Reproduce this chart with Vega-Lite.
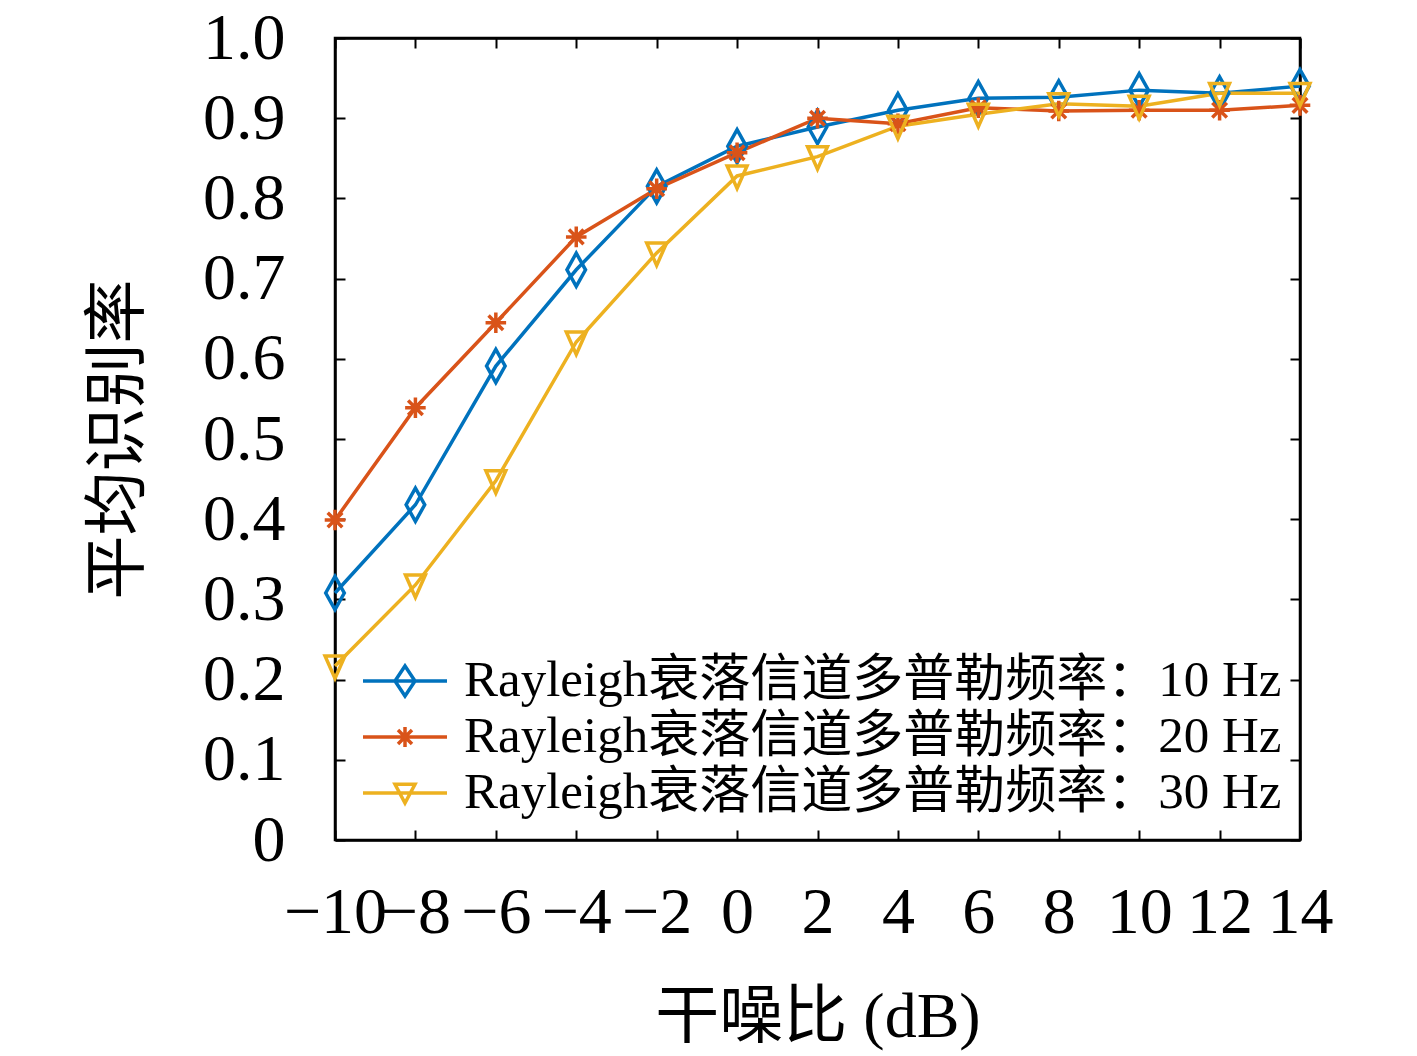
{
  "$schema": "https://vega.github.io/schema/vega-lite/v6.json",
  "width": 965,
  "height": 802,
  "autosize": {"type": "none"},
  "padding": {"left": 335, "top": 38, "right": 117, "bottom": 216},
  "background": "white",
  "config": {
    "font": "Liberation Serif, Noto Sans CJK SC",
    "view": {"stroke": "black", "strokeWidth": 2.5},
    "axis": {
      "domainColor": "black",
      "domainWidth": 2.5,
      "tickColor": "black",
      "tickWidth": 2,
      "tickSize": -10,
      "grid": false,
      "labelFont": "Liberation Serif",
      "labelFontSize": 66,
      "labelColor": "black",
      "labelOverlap": false,
      "titleFont": "Liberation Serif, Noto Sans CJK SC",
      "titleFontSize": 64,
      "titleFontWeight": "normal",
      "titleColor": "black"
    }
  },
  "data": {
    "values": [
      {"snr": -10, "rate": 0.308, "series": "Rayleigh衰落信道多普勒频率：10 Hz"},
      {"snr": -8, "rate": 0.418, "series": "Rayleigh衰落信道多普勒频率：10 Hz"},
      {"snr": -6, "rate": 0.591, "series": "Rayleigh衰落信道多普勒频率：10 Hz"},
      {"snr": -4, "rate": 0.711, "series": "Rayleigh衰落信道多普勒频率：10 Hz"},
      {"snr": -2, "rate": 0.815, "series": "Rayleigh衰落信道多普勒频率：10 Hz"},
      {"snr": 0, "rate": 0.865, "series": "Rayleigh衰落信道多普勒频率：10 Hz"},
      {"snr": 2, "rate": 0.889, "series": "Rayleigh衰落信道多普勒频率：10 Hz"},
      {"snr": 4, "rate": 0.910, "series": "Rayleigh衰落信道多普勒频率：10 Hz"},
      {"snr": 6, "rate": 0.925, "series": "Rayleigh衰落信道多普勒频率：10 Hz"},
      {"snr": 8, "rate": 0.926, "series": "Rayleigh衰落信道多普勒频率：10 Hz"},
      {"snr": 10, "rate": 0.935, "series": "Rayleigh衰落信道多普勒频率：10 Hz"},
      {"snr": 12, "rate": 0.931, "series": "Rayleigh衰落信道多普勒频率：10 Hz"},
      {"snr": 14, "rate": 0.940, "series": "Rayleigh衰落信道多普勒频率：10 Hz"},
      {"snr": -10, "rate": 0.399, "series": "Rayleigh衰落信道多普勒频率：20 Hz"},
      {"snr": -8, "rate": 0.539, "series": "Rayleigh衰落信道多普勒频率：20 Hz"},
      {"snr": -6, "rate": 0.645, "series": "Rayleigh衰落信道多普勒频率：20 Hz"},
      {"snr": -4, "rate": 0.752, "series": "Rayleigh衰落信道多普勒频率：20 Hz"},
      {"snr": -2, "rate": 0.812, "series": "Rayleigh衰落信道多普勒频率：20 Hz"},
      {"snr": 0, "rate": 0.857, "series": "Rayleigh衰落信道多普勒频率：20 Hz"},
      {"snr": 2, "rate": 0.900, "series": "Rayleigh衰落信道多普勒频率：20 Hz"},
      {"snr": 4, "rate": 0.893, "series": "Rayleigh衰落信道多普勒频率：20 Hz"},
      {"snr": 6, "rate": 0.913, "series": "Rayleigh衰落信道多普勒频率：20 Hz"},
      {"snr": 8, "rate": 0.909, "series": "Rayleigh衰落信道多普勒频率：20 Hz"},
      {"snr": 10, "rate": 0.910, "series": "Rayleigh衰落信道多普勒频率：20 Hz"},
      {"snr": 12, "rate": 0.910, "series": "Rayleigh衰落信道多普勒频率：20 Hz"},
      {"snr": 14, "rate": 0.916, "series": "Rayleigh衰落信道多普勒频率：20 Hz"},
      {"snr": -10, "rate": 0.217, "series": "Rayleigh衰落信道多普勒频率：30 Hz"},
      {"snr": -8, "rate": 0.318, "series": "Rayleigh衰落信道多普勒频率：30 Hz"},
      {"snr": -6, "rate": 0.448, "series": "Rayleigh衰落信道多普勒频率：30 Hz"},
      {"snr": -4, "rate": 0.621, "series": "Rayleigh衰落信道多普勒频率：30 Hz"},
      {"snr": -2, "rate": 0.732, "series": "Rayleigh衰落信道多普勒频率：30 Hz"},
      {"snr": 0, "rate": 0.828, "series": "Rayleigh衰落信道多普勒频率：30 Hz"},
      {"snr": 2, "rate": 0.852, "series": "Rayleigh衰落信道多普勒频率：30 Hz"},
      {"snr": 4, "rate": 0.890, "series": "Rayleigh衰落信道多普勒频率：30 Hz"},
      {"snr": 6, "rate": 0.905, "series": "Rayleigh衰落信道多普勒频率：30 Hz"},
      {"snr": 8, "rate": 0.918, "series": "Rayleigh衰落信道多普勒频率：30 Hz"},
      {"snr": 10, "rate": 0.915, "series": "Rayleigh衰落信道多普勒频率：30 Hz"},
      {"snr": 12, "rate": 0.931, "series": "Rayleigh衰落信道多普勒频率：30 Hz"},
      {"snr": 14, "rate": 0.931, "series": "Rayleigh衰落信道多普勒频率：30 Hz"}
    ]
  },
  "layer": [
    {
      "mark": {"type": "line", "strokeWidth": 3.5},
      "encoding": {
        "x": {
          "field": "snr",
          "type": "quantitative",
          "scale": {"domain": [-10, 14], "nice": false},
          "axis": {"orient": "bottom", "values": [-10, -8, -6, -4, -2, 0, 2, 4, 6, 8, 10, 12, 14], "labelPadding": 50, "title": "干噪比 (dB)", "titlePadding": 40, "labelFlush": false}
        },
        "y": {
          "field": "rate",
          "type": "quantitative",
          "scale": {"domain": [0, 1], "nice": false},
          "axis": {"orient": "left", "values": [0, 0.1, 0.2, 0.3, 0.4, 0.5, 0.6, 0.7, 0.8, 0.9, 1.0], "labelExpr": "datum.value == 0 ? '0' : format(datum.value, '.1f')", "labelPadding": 60, "title": "平均识别率", "titlePadding": 52, "labelFlush": false}
        },
        "color": {
          "field": "series",
          "type": "nominal",
          "scale": {
            "domain": ["Rayleigh衰落信道多普勒频率：10 Hz", "Rayleigh衰落信道多普勒频率：20 Hz", "Rayleigh衰落信道多普勒频率：30 Hz"],
            "range": ["#0072BD", "#D95319", "#EDB120"]
          },
          "legend": {
            "orient": "none",
            "legendX": 43,
            "legendY": 616,
            "title": null,
            "padding": 0,
            "symbolSize": 2500,
            "symbolStrokeWidth": 3.5,
            "labelFont": "Liberation Serif, Noto Sans CJK SC",
            "labelFontSize": 51,
            "labelColor": "black",
            "labelOffset": 32,
            "labelLimit": 1000,
            "rowPadding": 4,
            "encode": {
              "symbols": {
                "update": {
                  "shape": {"signal": "indexof(datum.value, '10 Hz') >= 0 ? 'M-1.68,0H1.68M0,-0.6L0.4,0L0,0.6L-0.4,0Z' : indexof(datum.value, '20 Hz') >= 0 ? 'M-1.68,0H1.68M0,-0.4V0.4M-0.28,-0.28L0.28,0.28M-0.28,0.28L0.28,-0.28' : 'M-1.68,0H1.68M-0.4,-0.35H0.4L0,0.4Z'"},
                  "fill": {"value": "transparent"},
                  "strokeWidth": {"value": 3.5}
                }
              }
            }
          }
        }
      }
    },
    {
      "mark": {"type": "point", "filled": false, "strokeWidth": 3.5, "size": 1100, "opacity": 1},
      "encoding": {
        "x": {
          "field": "snr",
          "type": "quantitative",
          "axis": {"orient": "top", "values": [-10, -8, -6, -4, -2, 0, 2, 4, 6, 8, 10, 12, 14], "labels": false, "title": null}
        },
        "y": {
          "field": "rate",
          "type": "quantitative",
          "axis": {"orient": "right", "values": [0, 0.1, 0.2, 0.3, 0.4, 0.5, 0.6, 0.7, 0.8, 0.9, 1.0], "labels": false, "title": null}
        },
        "color": {"field": "series", "type": "nominal", "legend": null},
        "shape": {
          "field": "series",
          "type": "nominal",
          "scale": {
            "domain": ["Rayleigh衰落信道多普勒频率：10 Hz", "Rayleigh衰落信道多普勒频率：20 Hz", "Rayleigh衰落信道多普勒频率：30 Hz"],
            "range": ["M0,-1L0.56,0L0,1L-0.56,0Z", "M0,-0.62V0.62M-0.62,0H0.62M-0.44,-0.44L0.44,0.44M-0.44,0.44L0.44,-0.44", "M-0.6,-0.6H0.6L0,0.75Z"]
          },
          "legend": null
        }
      }
    }
  ],
  "resolve": {
    "axis": {"x": "independent", "y": "independent"},
    "legend": {"color": "independent", "shape": "independent"}
  }
}
